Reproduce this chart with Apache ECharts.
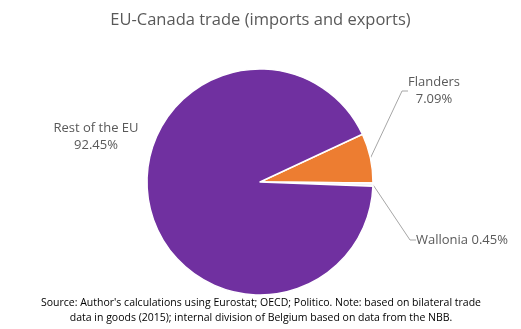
<!DOCTYPE html>
<html><head><meta charset="utf-8">
<script src="https://cdn.jsdelivr.net/npm/echarts@6/dist/echarts.min.js"></script>
<style>html,body{margin:0;padding:0;background:#fff}#c{width:521px;height:329px}</style>
</head><body><div id="c"></div>
<script>
const categories = ['Flanders', 'Wallonia', 'Rest of the EU'];
const values = [7.09, 0.45, 92.45];
const colors = ['#ED7D31', '#F4F1F7', '#7030A0'];
const labelPos = [[434, 91], [416, 240], [96, 137]];
const titleText = 'EU-Canada trade (imports and exports)';
const sourceText = "Source: Author's calculations using Eurostat; OECD; Politico. Note: based on bilateral trade\ndata in goods (2015); internal division of Belgium based on data from the NBB.";

const chart = echarts.init(document.getElementById('c'));
const font = 'Open Sans';
chart.setOption({
  animation: false,
  title: [{
    text: titleText, left: 'center', top: 7,
    textStyle: { fontFamily: font, fontSize: 16.5, fontWeight: 'normal', color: '#595959' }
  }],
  graphic: [{
    type: 'text', x: 261, y: 296, z: 100,
    style: { text: sourceText, fontFamily: font, fontSize: 10.5, fill: '#000', lineHeight: 15, align: 'center', verticalAlign: 'top' }
  }],
  series: [{
    type: 'pie',
    center: [260, 182],
    radius: 113,
    startAngle: 25,
    clockwise: true,
    data: categories.map((c, i) => ({
      name: c, value: values[i],
      itemStyle: { color: colors[i] },
      labelLine: { show: i !== 2 },
      label: i === 1 ? { formatter: '{b} {d}%' } : {}
    })),
    itemStyle: { borderColor: '#fff', borderWidth: 1.5 },
    label: {
      show: true,
      formatter: (p) => p.name + '\n' + p.value.toFixed(2) + '%',
      fontFamily: font, fontSize: 13, color: '#595959', lineHeight: 17
    },
    labelLine: { show: true, lineStyle: { color: '#a6a6a6', width: 1 }, length: 10, length2: 6 },
    labelLayout: (p) => {
      const pos = labelPos[p.dataIndex];
      if (p.dataIndex === 1) {
        return { x: pos[0], y: pos[1], align: 'left', verticalAlign: 'middle' };
      }
      return { x: pos[0], y: pos[1], align: 'center', verticalAlign: 'middle' };
    }
  }]
});
</script></body></html>
